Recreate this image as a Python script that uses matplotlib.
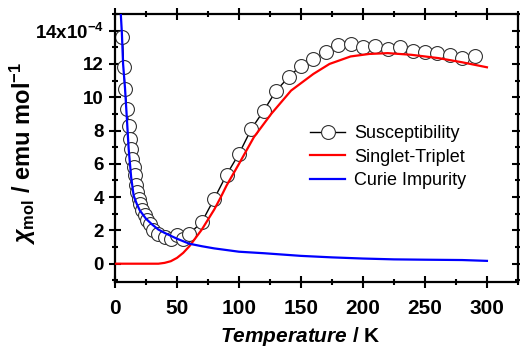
import matplotlib
matplotlib.use("Agg")
import matplotlib.pyplot as plt
from matplotlib.ticker import MultipleLocator, FixedLocator

# susceptibility data (x 1e-4 emu/mol)
temp_meas = [6, 7, 8, 9.5, 11, 12, 13, 14, 15, 16, 17, 18, 19, 20, 22, 24, 26, 28,
             31, 35, 40, 45, 50, 55, 60, 70, 80, 90, 100, 110, 120, 130, 140, 150,
             160, 170, 180, 190, 200, 210, 220, 230, 240, 250, 260, 270, 280, 290]
chi_meas = [13.6, 11.8, 10.5, 9.3, 8.3, 7.5, 6.9, 6.3, 5.8, 5.3, 4.7, 4.3, 3.9, 3.6,
            3.2, 2.9, 2.6, 2.4, 2.0, 1.8, 1.6, 1.5, 1.7, 1.5, 1.8, 2.5, 3.9, 5.35,
            6.6, 8.1, 9.2, 10.4, 11.2, 11.9, 12.3, 12.7, 13.15, 13.2, 13.0, 13.1,
            12.9, 13.0, 12.8, 12.7, 12.65, 12.55, 12.35, 12.45]

# singlet-triplet fit
temp_st = [0, 35, 40, 45, 50, 55, 60, 65, 70, 75, 80, 85, 90, 100, 112, 126, 142,
           160, 173, 190, 205, 220, 239, 261, 280, 300]
chi_st = [0, 0, 0.05, 0.15, 0.35, 0.65, 1.05, 1.55, 2.05, 2.65, 3.25, 3.95, 4.7,
          6.0, 7.6, 9.0, 10.4, 11.4, 12.0, 12.45, 12.6, 12.65, 12.55, 12.35, 12.1, 11.8]

# curie impurity
temp_cu = [4.5, 5.5, 6.5, 8, 9.5, 11, 13, 15, 17.5, 20, 25, 30, 35, 40, 50, 60, 70,
           80, 100, 120, 150, 175, 200, 225, 250, 280, 300]
chi_cu = [15.2, 13.9, 12.0, 10.6, 8.8, 6.9, 5.2, 4.1, 3.6, 3.2, 2.7, 2.35, 2.05,
          1.85, 1.5, 1.2, 1.05, 0.92, 0.72, 0.63, 0.47, 0.38, 0.31, 0.26, 0.24, 0.22, 0.17]

ytick_vals = [0, 2, 4, 6, 8, 10, 12, 14]
ytick_labels = ["0", "2", "4", "6", "8", "10", "12", r"14x10$^{-4}$"]

plt.rcParams["font.family"] = ["Liberation Sans", "DejaVu Sans"]
plt.rcParams["mathtext.fontset"] = "custom"
plt.rcParams["mathtext.rm"] = "Liberation Sans:bold"
plt.rcParams["mathtext.bf"] = "Liberation Sans:bold"
plt.rcParams["mathtext.it"] = "Liberation Sans:bold:italic"

fig = plt.figure(figsize=(5.2, 3.53), dpi=100)
ax = fig.add_axes([0.2212, 0.2011, 0.7748, 0.7592])

ax.plot(temp_meas, chi_meas, color="black", linewidth=1.0, marker="o",
        markersize=10, markerfacecolor="white", markeredgecolor="#333333",
        markeredgewidth=0.8, label="Susceptibility", zorder=2)
ax.plot(temp_st, chi_st, color="#ff0000", linewidth=1.6, label="Singlet-Triplet", zorder=3)
ax.plot(temp_cu, chi_cu, color="#0000ff", linewidth=1.6, label="Curie Impurity", zorder=3)

ax.set_xlim(0, 325)
ax.set_ylim(-1.1, 15)
ax.xaxis.set_major_locator(MultipleLocator(50))
ax.xaxis.set_minor_locator(MultipleLocator(25))
ax.yaxis.set_major_locator(FixedLocator(ytick_vals))
ax.yaxis.set_minor_locator(MultipleLocator(1))
ax.set_yticklabels(ytick_labels)

for s in ax.spines.values():
    s.set_linewidth(1.6)
ax.tick_params(which="both", direction="inout", top=True, right=True, width=1.5)
ax.tick_params(which="major", length=9)
ax.tick_params(which="minor", length=5)
ax.tick_params(axis="x", labelsize=15, pad=8)
ax.tick_params(axis="y", labelsize=13.5)
for lab in ax.get_xticklabels() + ax.get_yticklabels():
    lab.set_fontweight("bold")

ax.set_xlabel(r"$\mathit{Temperature}$ / K", fontsize=15, fontweight="bold")
ax.xaxis.set_label_coords(0.46, -0.16)
ax.set_ylabel(r"$\chi_{\mathrm{mol}}$ / emu mol$^{-1}$", fontsize=17, fontweight="bold")
ax.yaxis.set_label_coords(-0.19, 0.48)

leg = ax.legend(loc="center left", bbox_to_anchor=(0.485, 0.466), frameon=False,
                fontsize=13, handlelength=1.9, handletextpad=0.5, labelspacing=0.35,
                borderpad=0, borderaxespad=0)

fig.savefig("out.png", dpi=100)
